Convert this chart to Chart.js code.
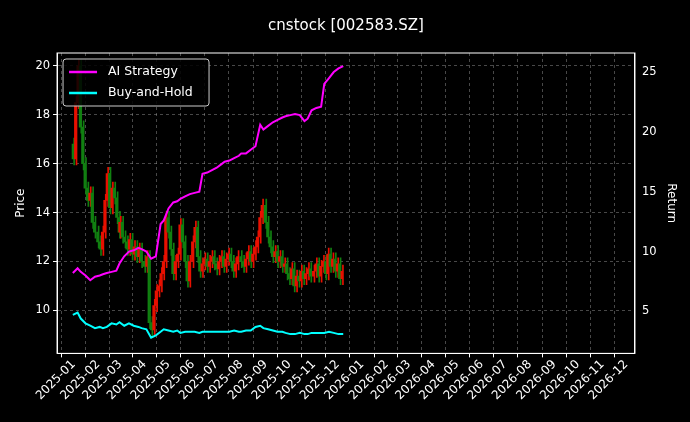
<!DOCTYPE html>
<html><head><meta charset="utf-8">
<script src="https://cdn.jsdelivr.net/npm/chart.js@4/dist/chart.umd.min.js"></script>
<style>html,body{margin:0;background:#000}#w{width:690px;height:422px}</style>
</head><body><div id="w"><canvas id="c"></canvas></div>
<script>
// closes, ten per month (Jan..Nov) plus three in early December 2025
const priceClose = [16.2,18.5,20.0,17.5,16.0,15.0,14.5,14.8,13.6,13.2,
12.8,12.5,13.2,14.5,15.6,14.2,15.0,14.6,13.8,13.2,
13.6,13.0,12.8,12.5,12.9,12.3,12.6,12.2,12.5,12.0,
11.8,12.2,9.5,9.2,10.2,10.8,11.0,11.5,12.0,13.8,
13.2,12.5,11.5,12.0,12.3,13.5,12.8,12.0,11.2,12.0,
12.8,13.4,12.2,11.6,11.9,12.1,11.8,12.0,12.2,11.9,
11.7,12.0,12.2,11.8,12.1,12.3,12.0,11.6,11.9,12.2,
12.0,11.8,12.1,12.4,12.0,12.3,12.6,13.0,13.8,14.3,
13.6,13.0,12.6,12.2,12.4,12.0,12.2,11.8,11.9,11.5,
11.3,11.7,11.0,11.4,11.2,11.6,11.3,11.5,11.7,11.4,
11.6,11.9,11.4,11.8,12.0,11.5,12.3,11.8,12.1,11.6,
11.9,11.3,11.6];
const aiStrategy = [8.2,8.6,8.3,8.0,7.6,7.9, 8.0,8.1,8.2,8.3,8.4, 9.0,9.6,10.0,10.1,10.3,10.2,
10.0,9.4,9.6,12.3,12.6, 13.6,14.1,14.2,14.4,14.6,14.8, 14.9,15.0,16.5,16.6,16.8,
17.0,17.3,17.5,17.6,17.8,18.0, 18.2,18.2,18.5,18.8,20.6, 20.2,20.5,20.8,21.0,21.2,
21.3,21.4,21.5,21.4,20.9,21.1, 21.8,22.0,22.1,24.0,24.5,25.0, 25.3,25.5];
const buyHold = [4.7,4.9,4.4,4.0,3.8,3.6, 3.7,3.6,3.7,4.0,3.9, 4.1,3.8,4.0,3.8,3.7,3.6,
3.5,2.8,3.0,3.3,3.5, 3.4,3.3,3.4,3.2,3.3,3.3, 3.3,3.2,3.3,3.3,3.3,
3.3,3.3,3.3,3.3,3.4,3.3, 3.3,3.4,3.4,3.7,3.8, 3.6,3.5,3.4,3.3,3.3,
3.2,3.1,3.1,3.2,3.1,3.1, 3.2,3.2,3.2,3.2,3.3,3.2, 3.1,3.1];
const monthTicks = [];
for (let y=2025;y<=2026;y++) for (let m=0;m<12;m++) monthTicks.push(Date.UTC(y,m,1));

const day = 86400000;
const tradingDays = [];
for (let t=Date.UTC(2024,11,31); tradingDays.length<300; t+=day){const d=new Date(t).getUTCDay(); if(d!==0&&d!==6) tradingDays.push(t);}
const cDates = priceClose.map((_,i)=>Date.UTC(2025,Math.floor(i/10),1)+(i%10)*3*day);
const lDates = aiStrategy.map((_,i)=>tradingDays[Math.round(i*244/62)]);
const opens = priceClose.map((c,i)=> i===0 ? 16.8 : priceClose[i-1]);
const bodies = priceClose.map((c,i)=>({x:cDates[i], y:[opens[i], c]}));
const wicks = priceClose.map((c,i)=>({x:cDates[i], y:[Math.min(opens[i],c)-0.25, Math.max(opens[i],c)+0.25]}));
const cols = priceClose.map((c,i)=> c>=opens[i] ? '#e81000' : '#118011');

const legendPlugin = {id:'lg', afterDraw(ch){
  const ctx=ch.ctx, a=ch.chartArea; const x=a.left+6, y=a.top+6, w=146, h=47;
  ctx.save(); ctx.fillStyle='rgba(0,0,0,0.85)'; ctx.strokeStyle='#ccc'; ctx.lineWidth=1;
  ctx.beginPath(); ctx.roundRect(x,y,w,h,3); ctx.fill(); ctx.stroke();
  const items=[['AI Strategy','#ff00ff'],['Buy-and-Hold','#00ffff']];
  ctx.font='12.5px "DejaVu Sans"'; ctx.textBaseline='middle';
  items.forEach((it,i)=>{const yy=y+13+i*21; ctx.strokeStyle=it[1]; ctx.lineWidth=2.5;
    ctx.beginPath(); ctx.moveTo(x+6,yy); ctx.lineTo(x+34,yy); ctx.stroke();
    ctx.fillStyle='#fff'; ctx.fillText(it[0], x+45, yy);});
  ctx.restore();
}};
const borderPlugin = {id:'bd', afterDatasetsDraw(ch){const a=ch.chartArea,ctx=ch.ctx;ctx.save();ctx.strokeStyle='#fff';ctx.lineWidth=1;ctx.strokeRect(a.left,a.top,a.right-a.left,a.bottom-a.top);ctx.restore();}};

Chart.defaults.font.family='"DejaVu Sans"';
Chart.defaults.color='#fff';
new Chart(document.getElementById('c'),{
  data:{datasets:[
    {type:'bar', data:wicks, backgroundColor:cols, barThickness:1, yAxisID:'y', order:3},
    {type:'bar', data:bodies, backgroundColor:cols, barThickness:1.6, yAxisID:'y', order:2},
    {type:'line', label:'AI Strategy', data:aiStrategy.map((v,i)=>({x:lDates[i],y:v})), borderColor:'#ff00ff', borderWidth:2, pointRadius:0, yAxisID:'y2', order:1},
    {type:'line', label:'Buy-and-Hold', data:buyHold.map((v,i)=>({x:lDates[i],y:v})), borderColor:'#00ffff', borderWidth:2, pointRadius:0, yAxisID:'y2', order:1}
  ]},
  options:{responsive:true, maintainAspectRatio:false, animation:false,
    layout:{padding:{left:10,right:8,top:9,bottom:19}},
    plugins:{legend:{display:false}, tooltip:{enabled:false},
      title:{display:true,text:'cnstock [002583.SZ]',color:'#fff',font:{size:15,weight:'normal'},padding:{top:8,bottom:18}}},
    scales:{
      x:{type:'linear', min:Date.UTC(2024,11,11), max:Date.UTC(2026,11,12), offset:false,
        afterBuildTicks(s){s.ticks=monthTicks.map(v=>({value:v}));},
        ticks:{autoSkip:false, minRotation:45, maxRotation:45, font:{size:12}, color:'#fff', padding:0,
          callback(v){const d=new Date(v);return d.getUTCFullYear()+'-'+String(d.getUTCMonth()+1).padStart(2,'0');}},
        grid:{color:'rgba(160,160,160,0.45)', borderDash:[3,3], tickColor:'#fff', tickLength:4}, border:{dash:[3,3],color:'#fff'}},
      y:{position:'left', min:8.24, max:20.53, afterBuildTicks(s){s.ticks=[10,12,14,16,18,20].map(v=>({value:v}));},
        ticks:{font:{size:11.5},color:'#fff'}, title:{display:true,text:'Price',font:{size:12}},
        grid:{color:'rgba(160,160,160,0.45)', tickColor:'#fff', tickLength:4}, border:{dash:[3,3],color:'#fff'}},
      y2:{position:'right', min:1.49, max:26.59, afterBuildTicks(s){s.ticks=[5,10,15,20,25].map(v=>({value:v}));},
        ticks:{font:{size:11.5},color:'#fff'}, title:{display:true,text:'Return',font:{size:12}},
        grid:{display:false, tickColor:'#fff', tickLength:4}, border:{color:'#fff'}}
    }},
  plugins:[legendPlugin,borderPlugin]
});
</script></body></html>
